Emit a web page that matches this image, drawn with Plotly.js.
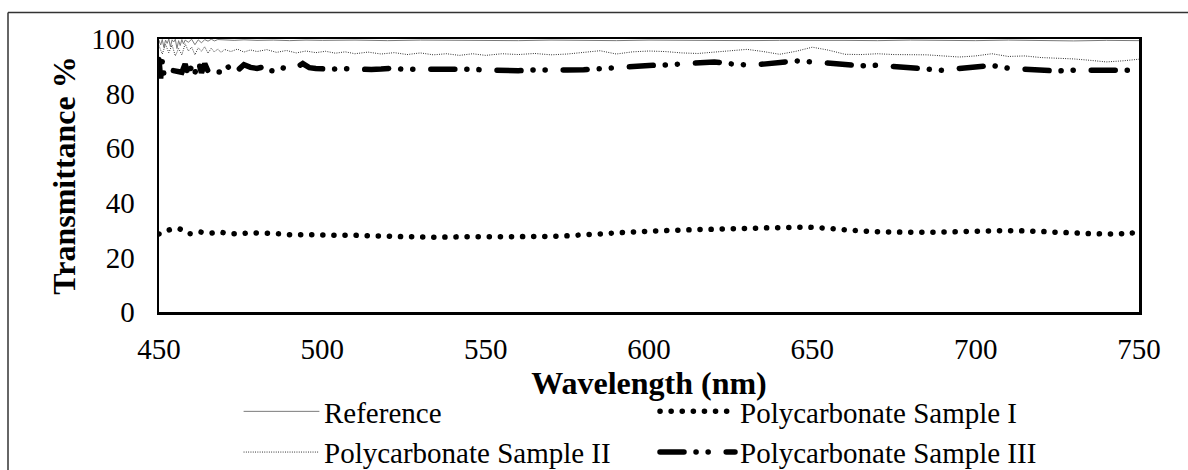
<!DOCTYPE html>
<html>
<head>
<meta charset="utf-8">
<script src="https://cdn.plot.ly/plotly-3.0.1.min.js"></script>
<style>
  html, body { margin: 0; padding: 0; background: #fff; overflow: hidden; }
  #chart { width: 1188px; height: 500px; }
  path.js-line { stroke-linecap: round; }
</style>
</head>
<body>
<div id="chart"></div>
<script>
// ---- Data ----
const xTicks = [450, 500, 550, 600, 650, 700, 750];
const yTicks = [0, 20, 40, 60, 80, 100];

const seriesNames = ["Reference", "Polycarbonate Sample I", "Polycarbonate Sample II", "Polycarbonate Sample III"];

const refX = [450,450.5,451,451.5,452,452.5,453,453.5,454,454.5,455,455.5,456,456.5,457,457.5,458,459,460,461,462,463,464,465,466,467,468,470,473,476,480,485,490,495,500,510,520,530,540,550,560,570,580,590,600,610,620,630,640,650,660,670,680,690,700,710,720,730,740,750];
const refY = [99.5,97.8,99.8,96.9,99.6,98.4,100,97.2,99.7,98.9,99.9,96.5,99.4,97.6,99.8,98.2,99.6,98.8,99.9,97.9,99.7,98.6,99.8,99.2,99.9,99.3,99.8,99.6,99.5,99.7,99.5,99.6,99.4,99.6,99.5,99.6,99.4,99.6,99.5,99.6,99.4,99.6,99.5,99.4,99.6,99.5,99.6,99.4,99.5,99.6,99.5,99.4,99.6,99.5,99.4,99.6,99.5,99.3,99.5,99.4];

const s1X = [450,451,452.5,454,455.5,457,458,459.5,461,462.5,464,466,468,470,472,474,476,478,481,484,487,490,495,500,505,510,515,520,525,530,535,540,545,550,555,560,565,570,575,580,585,590,595,600,605,610,615,620,625,630,635,640,645,650,655,660,665,670,675,680,685,690,695,700,705,710,715,720,725,730,735,740,745,750];
const s1Y = [28.6,28.8,29.8,30.3,30.6,30.1,29.2,28.7,28.9,29.3,29.0,28.9,29.3,29.0,28.7,28.7,28.8,29.0,28.9,28.8,28.6,28.3,28.3,28.2,28.1,28.1,27.9,27.8,27.6,27.5,27.4,27.5,27.6,27.6,27.6,27.6,27.7,27.7,27.9,28.3,28.6,29.0,29.3,29.6,29.8,30.0,30.2,30.3,30.5,30.6,30.8,30.9,31.0,31.0,30.6,30.1,29.7,29.4,29.3,29.2,29.2,29.3,29.4,29.6,29.7,29.8,29.7,29.5,29.2,29.0,28.7,28.6,28.7,29.2];

const s2X = [450,451,452,453,454,455,456,457,458,459,460,461,462,463,464,465,466,467,468,469,470,472,474,476,478,480,483,486,489,492,495,498,501,504,507,510,514,518,522,526,530,534,538,542,546,550,555,560,565,570,575,580,585,590,595,600,605,610,615,620,625,630,635,640,645,650,655,660,665,670,675,680,685,690,695,700,705,710,715,720,725,730,735,740,745,750];
const s2Y = [97.5,94.5,98.0,95.0,97.8,93.8,96.5,94.2,98.2,95.6,97.0,94.2,96.8,95.5,97.2,94.8,96.6,95.2,96.4,95.0,96.2,95.4,96.3,95.2,96.0,95.4,96.1,95.1,95.8,94.9,95.6,95.0,95.5,94.8,95.3,94.6,95.2,94.5,95.0,94.3,94.9,94.2,94.6,94.0,94.6,94.0,94.6,94.3,94.7,94.2,94.5,95.0,95.7,94.5,95.3,95.6,95.4,94.9,94.7,95.2,95.8,96.2,95.4,94.4,95.5,97.0,95.9,94.4,94.3,94.6,94.3,94.2,94.2,93.8,93.4,93.8,94.6,93.6,93.8,93.2,93.0,92.7,92.2,91.6,92.0,92.6];

const s3X = [450,450.5,451,451.5,452,453,454,455,456,457,458,459,460,461,462,463,464,465,466,467,468,469,470,471,472,473,474,475,476,478,480,482,484,486,488,490,492,494,496,498,500,503,506,509,512,515,518,521,525,530,535,540,545,550,555,560,565,570,575,580,585,590,595,600,605,610,615,620,625,630,635,640,645,650,655,660,665,670,675,680,685,690,695,700,705,710,715,720,725,730,735,740,745,750];
const s3Y = [92.5,85.5,91.8,87.0,89.5,88.2,88.5,88.2,88.4,87.8,90.8,86.8,90.2,87.5,92.2,87.6,91.0,88.3,88.0,87.8,88.0,87.9,88.6,90.1,88.2,89.8,88.4,89.4,90.6,89.6,89.2,89.8,88.4,88.2,89.4,88.9,89.6,91.0,89.5,89.2,89.0,88.9,89.2,89.0,88.8,88.8,89.0,89.3,88.9,89.0,88.7,88.8,88.9,88.7,88.5,88.4,88.7,88.9,88.6,88.7,89.1,90.0,90.4,90.3,90.5,91.0,91.4,91.6,90.9,90.5,90.8,91.3,92.0,91.6,91.0,90.3,90.2,90.4,89.8,89.2,88.6,88.5,89.2,89.9,90.3,89.3,88.8,88.5,88.3,88.6,88.4,88.3,88.5,88.6];

const FONT = "Liberation Serif";

const traces = [
  { x: refX, y: refY, name: seriesNames[0], type: "scatter", mode: "lines",
    line: { color: "#7a7a7a", width: 1 }, legend: "legend" },
  { x: s1X, y: s1Y, name: seriesNames[1], type: "scatter", mode: "lines",
    line: { color: "#000", width: 5.5, dash: "0.1px,11px", shape: "spline" }, legend: "legend2" },
  { x: s2X, y: s2Y, name: seriesNames[2], type: "scatter", mode: "lines",
    line: { color: "#000", width: 0.9, dash: "0.1px,2.2px" }, legend: "legend" },
  { x: s3X, y: s3Y, name: seriesNames[3], type: "scatter", mode: "lines",
    line: { color: "#000", width: 5.5, dash: "24px,12px,0.1px,12px,0.1px,18px" }, legend: "legend2" }
];

const axisCommon = {
  showgrid: false, zeroline: false, showline: true, linecolor: "#000", linewidth: 2.5,
  mirror: true, ticks: "", automargin: false,
  tickfont: { family: FONT, size: 29, color: "#000" }
};

const PLOT_TOP = 39, PLOT_BOTTOM = 312, PLOT_LEFT = 159, PLOT_RIGHT = 1139;
const PH = PLOT_BOTTOM - PLOT_TOP, PW = PLOT_RIGHT - PLOT_LEFT;

const layout = {
  width: 1188, height: 500,
  margin: { l: PLOT_LEFT, r: 1188 - PLOT_RIGHT, t: PLOT_TOP, b: 500 - PLOT_BOTTOM, pad: 0 },
  paper_bgcolor: "#fff", plot_bgcolor: "#fff",
  font: { family: FONT, color: "#000" },
  showlegend: true,
  xaxis: Object.assign({}, axisCommon, {
    range: [450, 750], tickvals: xTicks, ticklabelstandoff: 10,
    title: { text: "<b>Wavelength (nm)</b>", font: { family: FONT, size: 32, color: "#000" }, standoff: 4 }
  }),
  yaxis: Object.assign({}, axisCommon, {
    range: [0, 100], tickvals: yTicks, ticklabelstandoff: 16,
    title: { text: "<b>Transmittance %</b>", font: { family: FONT, size: 32, color: "#000" }, standoff: 6 }
  }),
  legend: {
    x: (239 - PLOT_LEFT) / PW, xanchor: "left", y: (PLOT_BOTTOM - 386) / PH, yanchor: "top",
    orientation: "v", bgcolor: "rgba(0,0,0,0)", borderwidth: 0, itemwidth: 75,
    font: { family: FONT, size: 29, color: "#000" }, tracegroupgap: 0
  },
  legend2: {
    x: (655 - PLOT_LEFT) / PW, xanchor: "left", y: (PLOT_BOTTOM - 386) / PH, yanchor: "top",
    orientation: "v", bgcolor: "rgba(0,0,0,0)", borderwidth: 0, itemwidth: 75,
    font: { family: FONT, size: 29, color: "#000" }, tracegroupgap: 0
  },
  shapes: [
    { type: "line", xref: "paper", yref: "paper",
      x0: (8 - PLOT_LEFT) / PW, x1: (8 - PLOT_LEFT) / PW, y0: -0.9, y1: (PLOT_BOTTOM - 12.5) / PH,
      line: { color: "#333", width: 1.5 }, layer: "below" },
    { type: "line", xref: "paper", yref: "paper",
      x0: (8 - PLOT_LEFT) / PW, x1: 1.15, y0: (PLOT_BOTTOM - 12.5) / PH, y1: (PLOT_BOTTOM - 12.5) / PH,
      line: { color: "#333", width: 1.5 }, layer: "below" }
  ]
};

Plotly.newPlot("chart", traces, layout, { staticPlot: true, displayModeBar: false });
</script>
</body>
</html>
